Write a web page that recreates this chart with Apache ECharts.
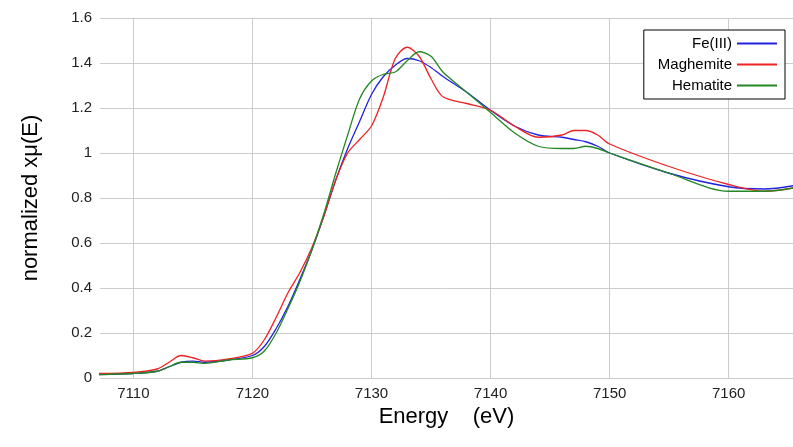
<!DOCTYPE html><html><head><meta charset="utf-8"><script src="https://cdn.jsdelivr.net/npm/echarts@6/dist/echarts.min.js"></script></head><body style="margin:0"><div id="c" style="width:793px;height:447px"></div><script>
const energy=[7107,7110,7112,7113,7114,7115,7116,7118,7120,7121,7122,7123,7124,7125,7126,7127,7128,7129,7130,7131,7132,7133,7134,7135,7136,7138,7140,7142,7144,7146,7147,7148,7149,7150,7155,7160,7163,7166];
const fe3=[0.015,0.02,0.03,0.05,0.07,0.075,0.07,0.08,0.1,0.14,0.22,0.32,0.44,0.57,0.72,0.88,1.02,1.14,1.26,1.34,1.39,1.42,1.41,1.38,1.34,1.27,1.19,1.12,1.08,1.07,1.06,1.05,1.03,1.0,0.91,0.85,0.84,0.86];
const maghemite=[0.02,0.025,0.04,0.07,0.1,0.09,0.075,0.085,0.11,0.17,0.27,0.38,0.47,0.58,0.72,0.88,1.0,1.06,1.12,1.25,1.42,1.47,1.43,1.33,1.25,1.22,1.19,1.12,1.07,1.08,1.1,1.1,1.08,1.04,0.94,0.86,0.83,0.85];
const hematite=[0.015,0.02,0.03,0.05,0.07,0.07,0.065,0.08,0.09,0.12,0.2,0.31,0.43,0.57,0.73,0.91,1.08,1.24,1.32,1.35,1.36,1.41,1.45,1.43,1.36,1.27,1.18,1.09,1.03,1.02,1.02,1.03,1.02,1.0,0.91,0.83,0.83,0.85];
const xTicks=[7110,7120,7130,7140,7150,7160];
const z=(a)=>energy.map((e,i)=>[e,a[i]]);
const ch=echarts.init(document.getElementById('c'));
const ff='Liberation Sans';
ch.setOption({
 animation:false,
 textStyle:{fontFamily:ff},
 grid:{left:100,right:0,top:18,bottom:69},
 xAxis:{type:'value',min:7107.2,max:7165.4,name:'Energy    (eV)',nameLocation:'middle',nameGap:28,nameTextStyle:{fontSize:22,color:'#000'},
  axisLine:{show:false},axisTick:{show:false,customValues:xTicks},
  axisLabel:{customValues:xTicks,fontSize:15,color:'#222',formatter:v=>String(v)},
  splitLine:{show:true,lineStyle:{color:'#ccc'}}},
 yAxis:{type:'value',min:0,max:1.6,interval:0.2,name:'normalized xμ(E)',nameLocation:'middle',nameGap:58,nameTextStyle:{fontSize:22,color:'#000'},
  axisLine:{show:false},axisTick:{show:false},axisLabel:{fontSize:15,color:'#222'},
  splitLine:{lineStyle:{color:'#ccc'}}},
 legend:{right:8,top:30,orient:'vertical',align:'right',itemWidth:40,itemHeight:2,itemGap:6,
  backgroundColor:'#fff',borderColor:'#000',borderWidth:1,padding:[6,8,6,14],textStyle:{fontSize:15,color:'#000'},
  data:[{name:'Fe(III)',icon:'rect'},{name:'Maghemite',icon:'rect'},{name:'Hematite',icon:'rect'}]},
 series:[
  {name:'Fe(III)',type:'line',data:z(fe3),smooth:0.3,symbol:'none',lineStyle:{color:'#2222dd',width:1.3},itemStyle:{color:'#2222dd'}},
  {name:'Maghemite',type:'line',data:z(maghemite),smooth:0.3,symbol:'none',lineStyle:{color:'#ee2222',width:1.3},itemStyle:{color:'#ee2222'}},
  {name:'Hematite',type:'line',data:z(hematite),smooth:0.3,symbol:'none',lineStyle:{color:'#228822',width:1.3},itemStyle:{color:'#228822'}}
 ]
});
</script></body></html>
